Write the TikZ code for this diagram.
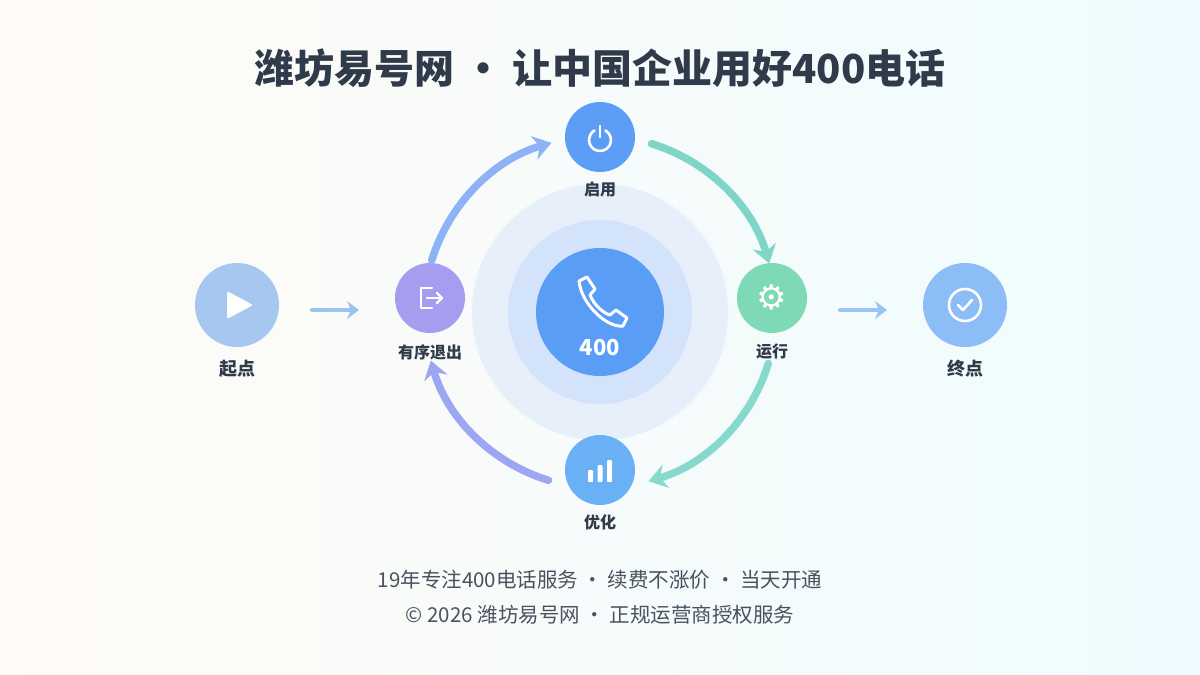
\documentclass[tikz,border=0pt]{standalone}
\usepackage{fontspec}
\setmainfont{Noto Sans CJK SC}
\newfontfamily\djv{DejaVu Sans}
\usetikzlibrary{arrows.meta,calc}
\definecolor{ttl}{HTML}{2F3A4A}
\definecolor{txt}{HTML}{4A5260}
\definecolor{halo1}{HTML}{E6EFFA}
\definecolor{halo2}{HTML}{D3E4FA}
\definecolor{core}{HTML}{5A9DF6}
\definecolor{cTop}{HTML}{5C9EF6}
\definecolor{cRight}{HTML}{7DD9B6}
\definecolor{cBot}{HTML}{69B0F4}
\definecolor{cLeft}{HTML}{A79DF0}
\definecolor{cStart}{HTML}{A6C8F0}
\definecolor{cEnd}{HTML}{8CBDF6}
\definecolor{aLT}{HTML}{8DB2F6}
\definecolor{aTR}{HTML}{7FD6C8}
\definecolor{aRB}{HTML}{86D9CC}
\definecolor{aBL}{HTML}{9CA6F3}
\definecolor{aSide}{HTML}{9CC4F2}
\begin{document}
\begin{tikzpicture}[x=1pt,y=-1pt,
 stepn/.style={circle,minimum size=70pt,inner sep=0pt},
 bign/.style={circle,minimum size=84pt,inner sep=0pt},
 lbl/.style={text=ttl},
 cyc/.style={line width=7.5pt,line cap=round,-{Stealth[length=18pt,width=24pt,inset=6pt]}},
 side/.style={aSide,line width=4pt,line cap=round,-{Stealth[length=12pt,width=18pt,inset=4pt]}},
 ic/.style={white,line width=2.6pt,line cap=round,line join=round}]
\shade[left color=white!50!orange!8,right color=blue!14!cyan!8] (0,0) rectangle (1200,675);
\fill[white,opacity=0.2] (0,0) rectangle (1200,675);
\useasboundingbox (0,0) rectangle (1200,675);
\node[font=\fontsize{40}{46}\selectfont\bfseries,text=ttl] (title) at (600,68) {潍坊易号网 · 让中国企业用好400电话};
% halo
\coordinate (C) at (600,312);
\node[circle,fill=halo1,minimum size=256pt] (h1) at (C) {};
\node[circle,fill=halo2,minimum size=184pt] (h2) at (C) {};
\node[circle,fill=core,minimum size=128pt] (core) at (C) {};
\node[text=white,font=\fontsize{22}{26}\selectfont\bfseries] (n400) at (600,348) {400};
% phone handset
\begin{scope}[shift={(601,303)}]
\draw[white,line width=3pt,line join=round,line cap=round]
 (-22,-22) -- (-14,-26) -- (-6,-14) -- (-11,-8) .. controls (-7,2) and (2,10) .. (9,12) -- (15,7) -- (26,15) -- (22,23)
 .. controls (5,25) and (-20,0) .. (-22,-22) -- cycle;
\end{scope}
% nodes
\node[stepn,fill=cTop] (top) at (600,137) {};
\node[stepn,fill=cRight] (right) at (772,298) {};
\node[stepn,fill=cBot] (bot) at (600,470) {};
\node[stepn,fill=cLeft] (left) at (430,298) {};
\node[bign,fill=cStart] (start) at (237,305) {};
\node[bign,fill=cEnd] (end) at (965,305) {};
\node[lbl,font=\fontsize{16}{18}\selectfont\bfseries] (ltop) at (600,189) {启用};
\node[lbl,font=\fontsize{16}{18}\selectfont\bfseries] (lright) at (772,352) {运行};
\node[lbl,font=\fontsize{16}{18}\selectfont\bfseries] (lbot) at (600,522) {优化};
\node[lbl,font=\fontsize{16}{18}\selectfont\bfseries] (lleft) at (430,352) {有序退出};
\node[lbl,font=\fontsize{18}{20}\selectfont\bfseries] (lstart) at (237,369) {起点};
\node[lbl,font=\fontsize{18}{20}\selectfont\bfseries] (lend) at (965,369) {终点};
% icons
\draw[ic] (600,126) -- (600,137);
\draw[ic] (605.5,130.5) arc (-60:240:11);
\node[text=white,font=\djv\fontsize{34}{36}\selectfont] (gear) at (772,297) {⚙};
\fill[white,rounded corners=1pt] (588,482) rectangle (593,470);
\fill[white,rounded corners=1pt] (597.5,482) rectangle (602.5,465);
\fill[white,rounded corners=1pt] (607,482) rectangle (612,460);
\draw[ic,line width=2.3pt] (432,288) -- (421,288) -- (421,308) -- (432,308);
\draw[ic,line width=2.3pt] (427,298) -- (442,298);
\draw[ic,line width=2.3pt] (437,293) -- (442,298) -- (437,303);
\fill[white,rounded corners=2pt] (227,291) -- (253,305) -- (227,319) -- cycle;
\draw[ic] (965,305) circle (16);
\draw[ic] (958,305) -- (963,310) -- (972,300);
% side arrows
\coordinate (s1) at (312,310); \coordinate (s2) at (359,310);
\coordinate (e1) at (840,310); \coordinate (e2) at (887,310);
\draw[side] (s1) -- (s2);
\draw[side] (e1) -- (e2);
% cycle arcs
\draw[cyc,aLT] ($(C)+(-163:176)$) arc (-163:-106:176);
\draw[cyc,aTR] ($(C)+(-73:176)$) arc (-73:-16:176);
\draw[cyc,aRB] ($(C)+(17:176)$) arc (17:74:176);
\draw[cyc,aBL] ($(C)+(107:176)$) arc (107:164:176);
% footer
\node[text=txt,font=\fontsize{20.5}{24}\selectfont] (f1) at (600,580) {19年专注400电话服务 · 续费不涨价 · 当天开通};
\node[text=txt,font=\fontsize{20.5}{24}\selectfont] (f2) at (600,615) {© 2026 潍坊易号网 · 正规运营商授权服务};
\end{tikzpicture}
\end{document}
